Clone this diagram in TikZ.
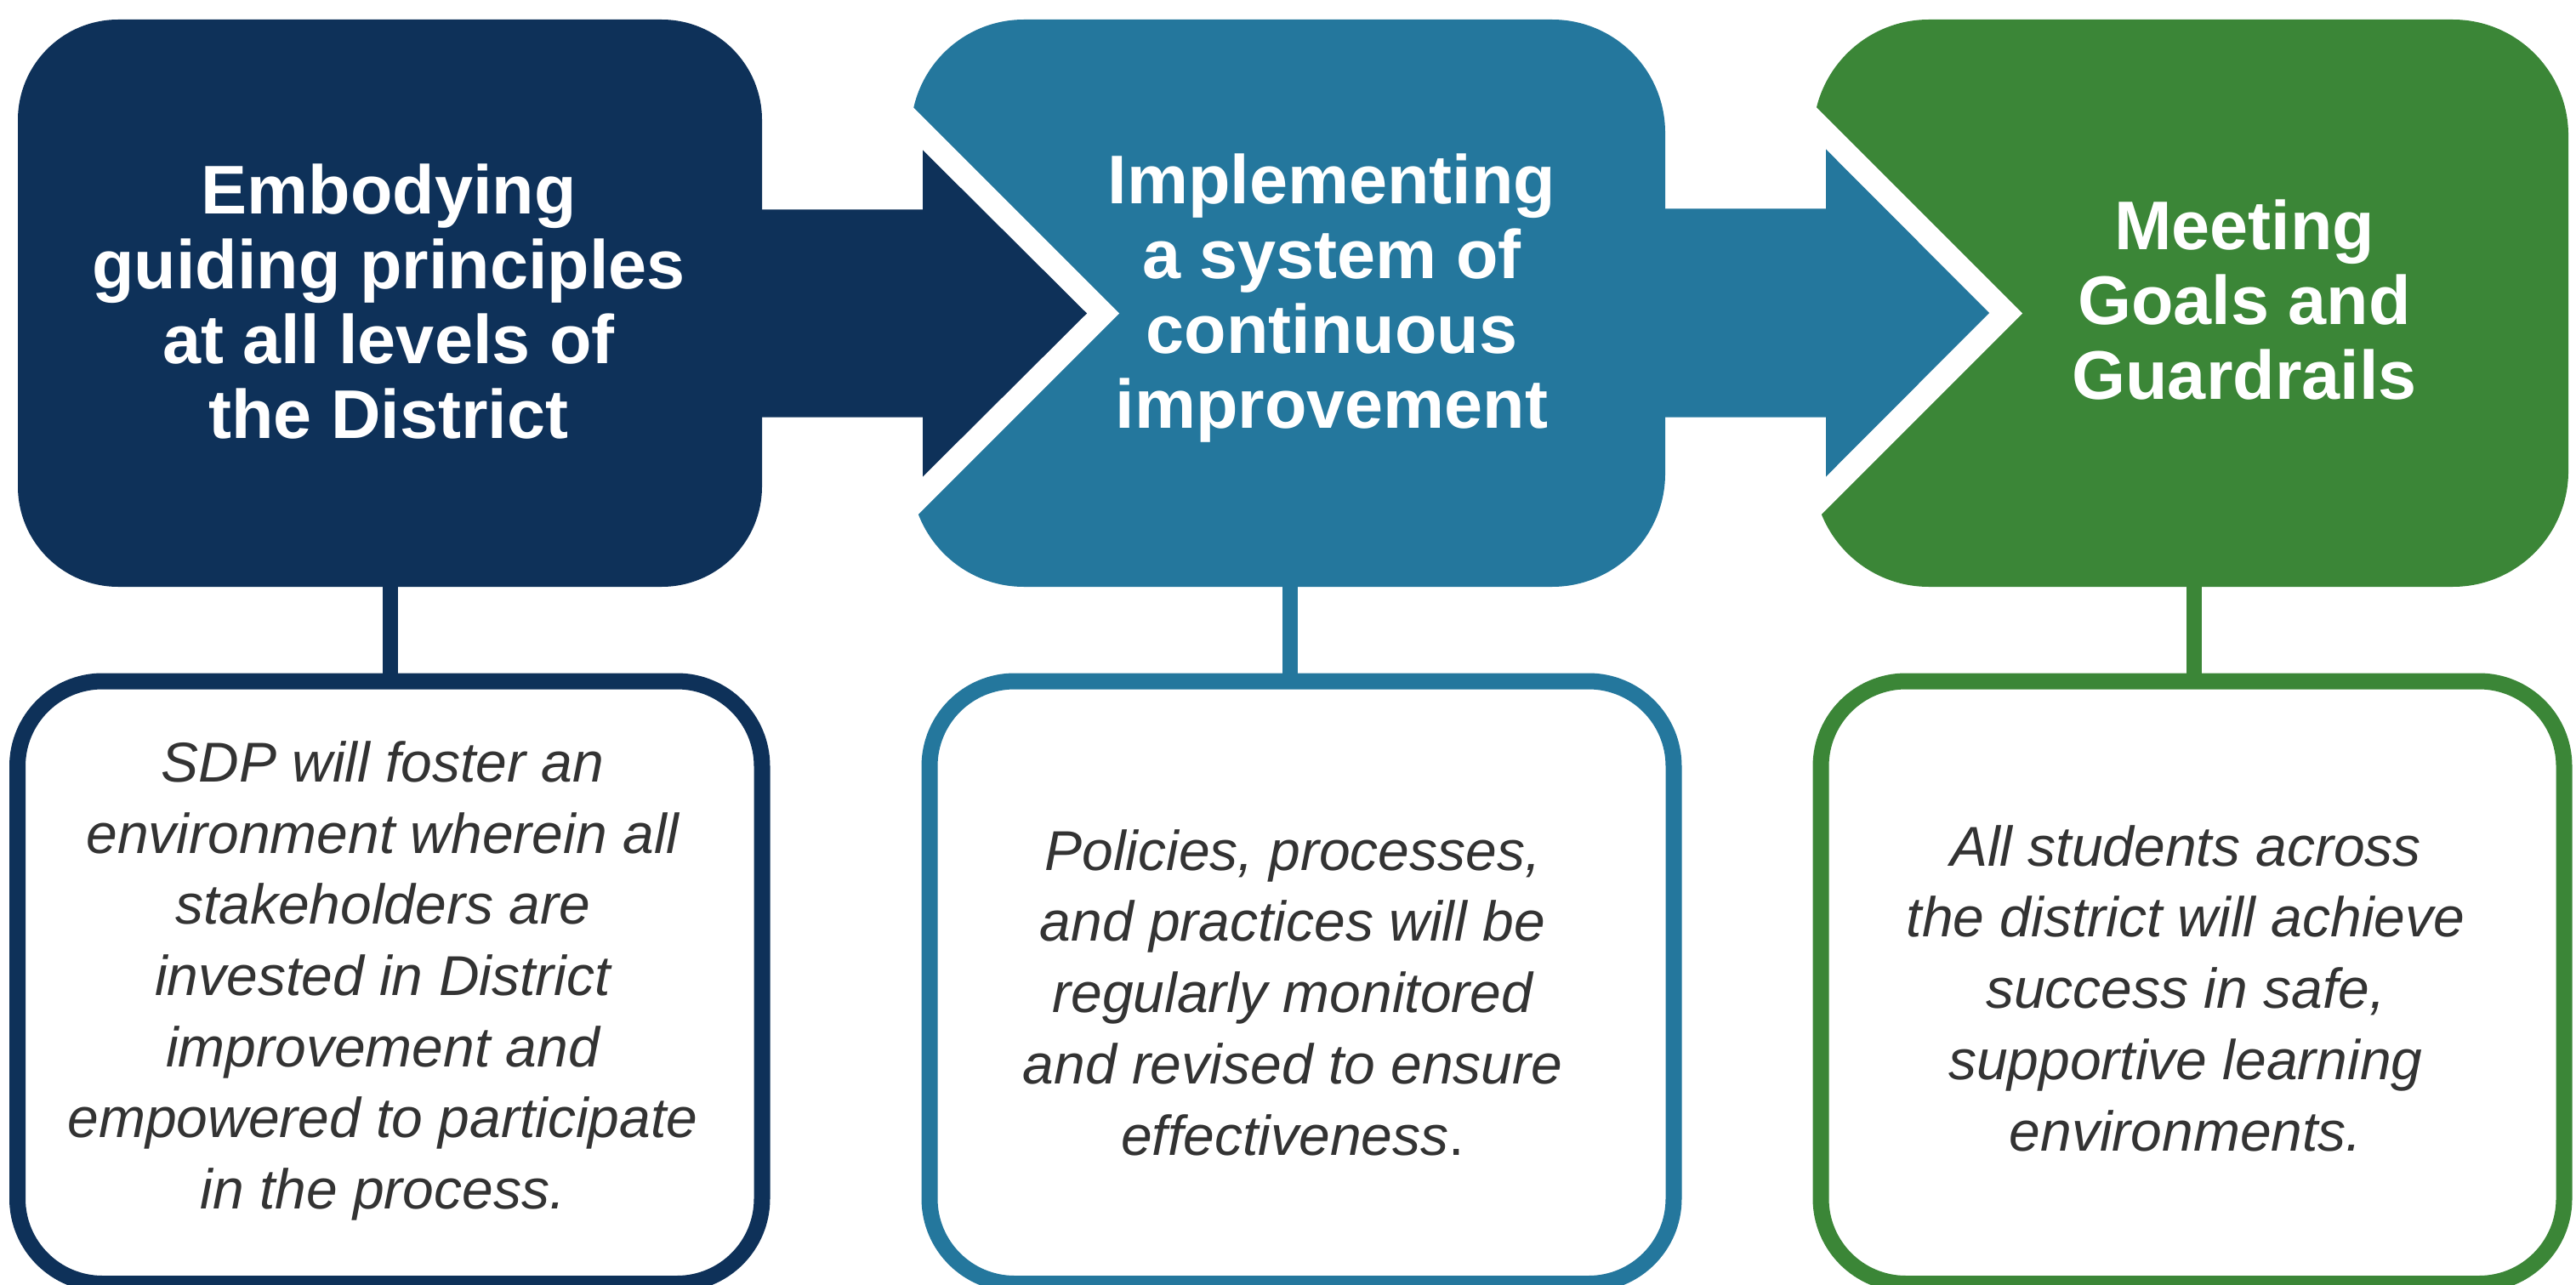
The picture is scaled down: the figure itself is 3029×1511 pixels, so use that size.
\documentclass[tikz,border=0pt]{standalone}
\usepackage{fontspec}
\setmainfont{Liberation Sans}
\usetikzlibrary{calc}
\definecolor{stageNavy}{HTML}{0E3159}
\definecolor{stageTeal}{HTML}{24779D}
\definecolor{stageGreen}{HTML}{3B8637}
\definecolor{bodyGray}{HTML}{333333}
\begin{document}
\begin{tikzpicture}[x=1pt,y=-1pt,
  topbox/.style={rectangle, draw=none, inner sep=0pt, outer sep=0pt, minimum height=667pt},
  botbox/.style={rectangle, draw, fill=white, line width=19pt, inner sep=0pt,
                 rounded corners=100pt, minimum height=708.5pt},
  headtext/.style={text=white, font=\fontsize{81}{88}\selectfont\bfseries,
                   align=center, anchor=base, inner sep=0pt},
  bodytext/.style={text=bodyGray, font=\fontsize{66}{83.7}\selectfont\itshape,
                   align=center, anchor=base, inner sep=0pt},
  link/.style={line width=18pt},
  notch/.style={fill=white}]
\useasboundingbox (0,0) rectangle (3029,1511);
\clip (0,0) rectangle (3029,1511);

% stage boxes
\node[topbox, fill=stageNavy,  rounded corners=118pt, minimum width=875pt] (t1) at (458.5,356.5) {};
\node[topbox, fill=stageTeal,  rounded corners=133pt, minimum width=887pt] (t2) at (1514.5,356.5) {};
\node[topbox, fill=stageGreen, rounded corners=136pt, minimum width=888pt] (t3) at (2576,356.5) {};

% white chevron cut-outs where the arrows enter
\fill[notch] ($(t2.west)+(245,12)$) -- ++(-300,-300) -- ++(0,600) -- cycle;
\fill[notch] ($(t3.west)+(246,12)$) -- ++(-300,-300) -- ++(0,600) -- cycle;

% block arrows between stages
\fill[stageNavy] ($(t1.east)+(-10,-110)$) -- ++(199,0) -- ++(0,-70) -- ++(193,192)
  -- ++(-193,192) -- ++(0,-70) -- ++(-199,0) -- cycle;
\fill[stageTeal] ($(t2.east)+(-10,-111)$) -- ++(199,0) -- ++(0,-70) -- ++(192,192.5)
  -- ++(-192,192.5) -- ++(0,-70) -- ++(-199,0) -- cycle;

% stage titles (placed by the baseline of their last line)
\node[headtext] (l1) at (457,515) {Embodying\\guiding principles\\at all levels of\\the District};
\node[headtext] (l2) at (1566,503) {Implementing\\a system of\\continuous\\improvement};
\node[headtext] (l3) at (2639,469) {Meeting\\Goals and\\Guardrails};

% description boxes
\node[botbox, draw=stageNavy,  minimum width=875.5pt] (b1) at (458.25,1155.25) {};
\node[botbox, draw=stageTeal,  minimum width=875pt]   (b2) at (1530.5,1155.25) {};
\node[botbox, draw=stageGreen, minimum width=874pt]   (b3) at (2578,1155.25) {};

% stems joining each stage to its description
\draw[link, stageNavy]  (t1.south) -- (t1.south |- b1.north);
\draw[link, stageTeal]  ($(t2.south)+(2.5,0)$) -- ($(t2.south |- b2.north)+(2.5,0)$);
\draw[link, stageGreen] ($(t3.south)+(4,0)$) -- ($(t3.south |- b3.north)+(4,0)$);

% descriptions (placed by the baseline of their last line)
\node[bodytext] (d1) at (450,1421.5) {SDP will foster an\\environment wherein all\\stakeholders are\\invested in District\\improvement and\\empowered to participate\\in the process.};
\node[bodytext] (d2) at (1520,1358) {Policies, processes,\\and practices will be\\regularly monitored\\and revised to ensure\\effectiveness{\upshape .}};
\node[bodytext] (d3) at (2570,1353) {All students across\\the district will achieve\\success in safe,\\supportive learning\\environments.};
\end{tikzpicture}
\end{document}
